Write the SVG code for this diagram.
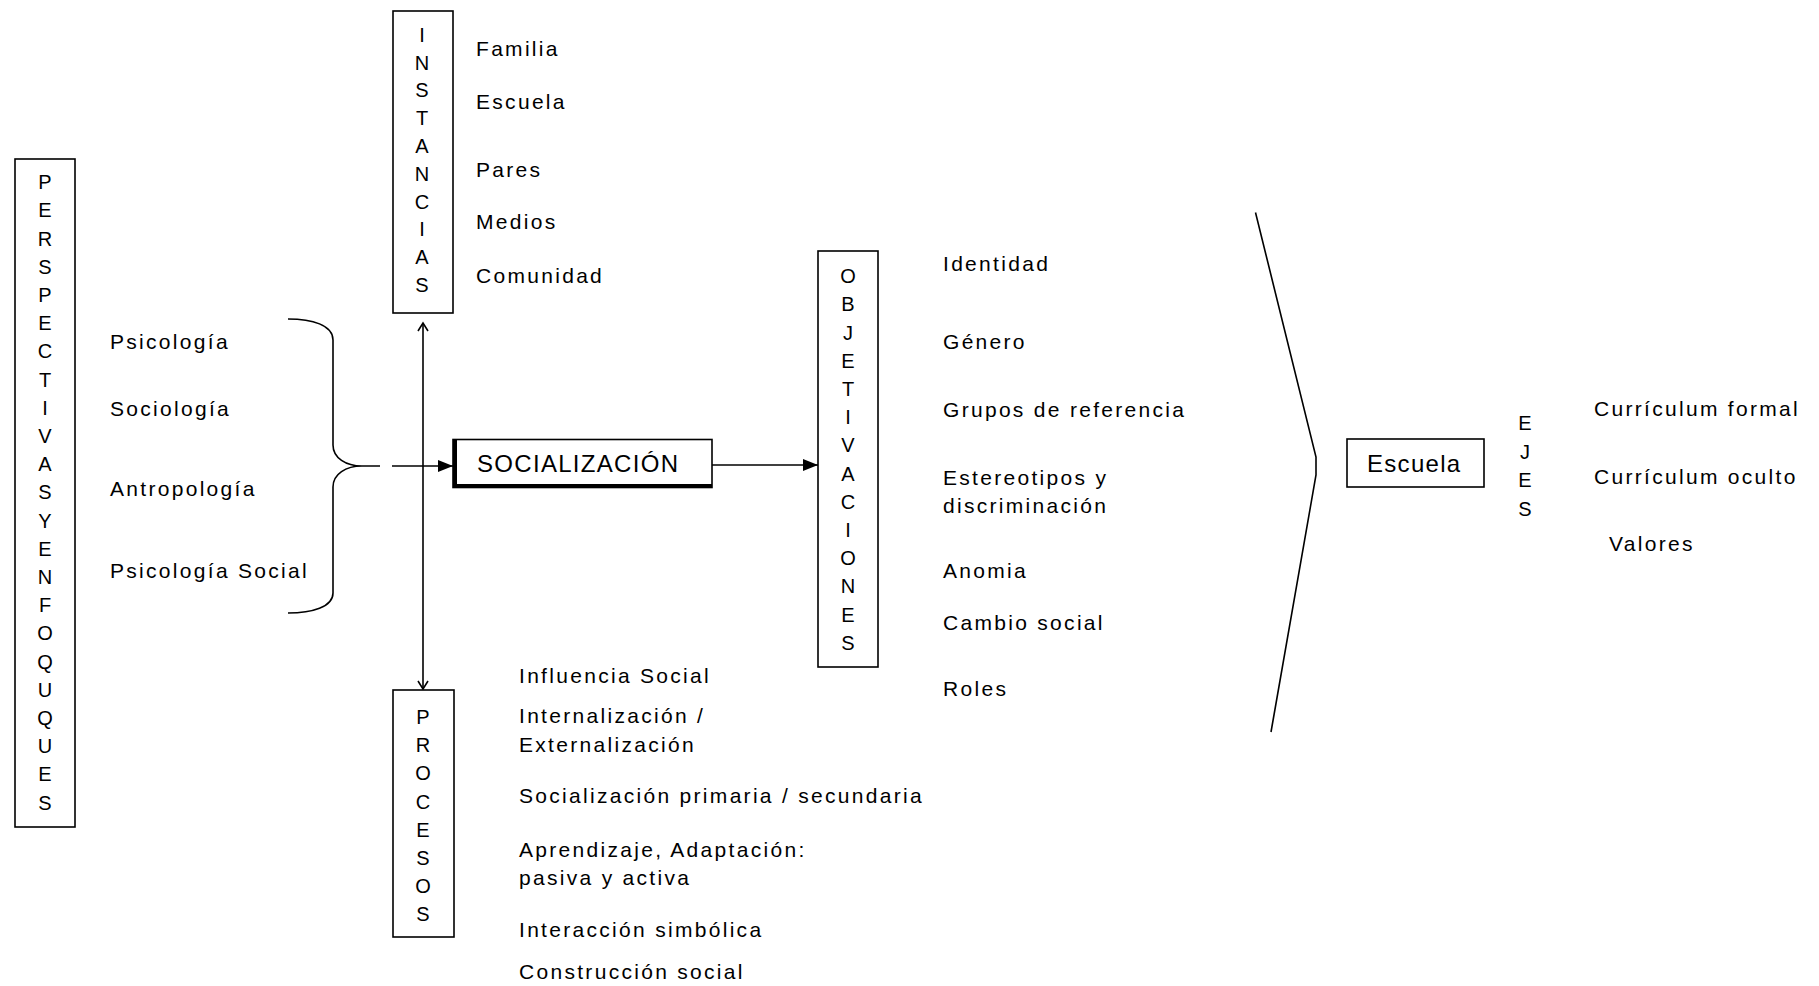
<svg xmlns="http://www.w3.org/2000/svg" width="1819" height="986" viewBox="0 0 1819 986">
<defs>
<style>
.t{font-family:"Liberation Sans",Arial,sans-serif;font-size:21px;letter-spacing:2.3px;fill:#000}
.big{font-family:"Liberation Sans",Arial,sans-serif;font-size:24px;letter-spacing:1.3px;fill:#000}
.v{font-family:"Liberation Sans",Arial,sans-serif;font-size:20px;fill:#000;text-anchor:middle}
.box{fill:#fff;stroke:#000;stroke-width:1.6}
.ln{fill:none;stroke:#000;stroke-width:1.6}
</style>
<marker id="tri" markerUnits="userSpaceOnUse" viewBox="0 0 15 12" markerWidth="15" markerHeight="12" refX="15" refY="6" orient="auto">
<path d="M0,0 L15,6 L0,12 z" fill="#000"/>
</marker>
<marker id="chev" markerUnits="userSpaceOnUse" viewBox="0 0 12 12" markerWidth="12" markerHeight="12" refX="10" refY="6" orient="auto-start-reverse">
<path d="M2,1 L10,6 L2,11" fill="none" stroke="#000" stroke-width="1.6"/>
</marker>
</defs>
<rect width="1819" height="986" fill="#fff"/>

<g id="connectors">
<path class="ln" d="M288,319 C312,319 333,325 333,340 L333,445 C333,458 346,466 362,466 L380,466 M362,466 C346,466 333,474 333,487 L333,593 C333,607 312,613 288,613"/>
<line class="ln" x1="392" y1="466" x2="453" y2="466" marker-end="url(#tri)"/>
<line class="ln" x1="423" y1="323" x2="423" y2="689" marker-start="url(#chev)" marker-end="url(#chev)"/>
<line class="ln" x1="712" y1="465" x2="818" y2="465" marker-end="url(#tri)"/>
<polyline class="ln" points="1255.5,212.5 1316,457 1316,475 1271,732"/>
</g>

<g id="perspectivas">
<rect class="box" x="15" y="159" width="60" height="668"/>
<text class="v">
<tspan x="45" y="189.2">P</tspan><tspan x="45" y="217.4">E</tspan><tspan x="45" y="245.6">R</tspan><tspan x="45" y="273.8">S</tspan><tspan x="45" y="302">P</tspan><tspan x="45" y="330.2">E</tspan><tspan x="45" y="358.4">C</tspan><tspan x="45" y="386.6">T</tspan><tspan x="45" y="414.8">I</tspan><tspan x="45" y="443">V</tspan><tspan x="45" y="471.2">A</tspan><tspan x="45" y="499.4">S</tspan><tspan x="45" y="527.6">Y</tspan><tspan x="45" y="555.8">E</tspan><tspan x="45" y="584">N</tspan><tspan x="45" y="612.2">F</tspan><tspan x="45" y="640.4">O</tspan><tspan x="45" y="668.6">Q</tspan><tspan x="45" y="696.8">U</tspan><tspan x="45" y="725">Q</tspan><tspan x="45" y="753.2">U</tspan><tspan x="45" y="781.4">E</tspan><tspan x="45" y="809.6">S</tspan>
</text>
</g>

<g id="disciplinas">
<text class="t" x="110" y="349">Psicología</text>
<text class="t" x="110" y="416">Sociología</text>
<text class="t" x="110" y="496">Antropología</text>
<text class="t" x="110" y="578">Psicología Social</text>
</g>

<g id="instancias">
<rect class="box" x="393" y="11" width="60" height="302"/>
<text class="v">
<tspan x="422" y="41.7">I</tspan><tspan x="422" y="69.5">N</tspan><tspan x="422" y="97.3">S</tspan><tspan x="422" y="125.1">T</tspan><tspan x="422" y="152.9">A</tspan><tspan x="422" y="180.7">N</tspan><tspan x="422" y="208.5">C</tspan><tspan x="422" y="236.3">I</tspan><tspan x="422" y="264.1">A</tspan><tspan x="422" y="291.9">S</tspan>
</text>
<text class="t" x="476" y="56">Familia</text>
<text class="t" x="476" y="109">Escuela</text>
<text class="t" x="476" y="177">Pares</text>
<text class="t" x="476" y="229">Medios</text>
<text class="t" x="476" y="283">Comunidad</text>
</g>

<g id="socializacion">
<rect class="box" x="453" y="439.5" width="259" height="48"/>
<line x1="455" y1="439" x2="455" y2="488" stroke="#000" stroke-width="4"/>
<line x1="453" y1="486" x2="712" y2="486" stroke="#000" stroke-width="4"/>
<text class="big" x="477" y="472">SOCIALIZACIÓN</text>
</g>

<g id="procesos">
<rect class="box" x="393" y="690" width="61" height="247"/>
<text class="v">
<tspan x="423" y="724.2">P</tspan><tspan x="423" y="752.3">R</tspan><tspan x="423" y="780.4">O</tspan><tspan x="423" y="808.5">C</tspan><tspan x="423" y="836.6">E</tspan><tspan x="423" y="864.7">S</tspan><tspan x="423" y="892.8">O</tspan><tspan x="423" y="920.9">S</tspan>
</text>
<text class="t" x="519" y="683">Influencia Social</text>
<text class="t" x="519" y="723">Internalización /</text>
<text class="t" x="519" y="752">Externalización</text>
<text class="t" x="519" y="803">Socialización primaria / secundaria</text>
<text class="t" x="519" y="857">Aprendizaje, Adaptación:</text>
<text class="t" x="519" y="885">pasiva y activa</text>
<text class="t" x="519" y="937">Interacción simbólica</text>
<text class="t" x="519" y="979">Construcción social</text>
</g>

<g id="objetivaciones">
<rect class="box" x="818" y="251" width="60" height="416"/>
<text class="v">
<tspan x="848" y="283.2">O</tspan><tspan x="848" y="311.4">B</tspan><tspan x="848" y="339.6">J</tspan><tspan x="848" y="367.8">E</tspan><tspan x="848" y="396">T</tspan><tspan x="848" y="424.2">I</tspan><tspan x="848" y="452.4">V</tspan><tspan x="848" y="480.6">A</tspan><tspan x="848" y="508.8">C</tspan><tspan x="848" y="537">I</tspan><tspan x="848" y="565.2">O</tspan><tspan x="848" y="593.4">N</tspan><tspan x="848" y="621.6">E</tspan><tspan x="848" y="649.8">S</tspan>
</text>
<text class="t" x="943" y="271">Identidad</text>
<text class="t" x="943" y="349">Género</text>
<text class="t" x="943" y="417">Grupos de referencia</text>
<text class="t" x="943" y="485">Estereotipos y</text>
<text class="t" x="943" y="513">discriminación</text>
<text class="t" x="943" y="578">Anomia</text>
<text class="t" x="943" y="630">Cambio social</text>
<text class="t" x="943" y="696">Roles</text>
</g>

<g id="escuela">
<rect class="box" x="1347" y="439" width="137" height="48"/>
<text class="big" x="1367" y="472">Escuela</text>
</g>

<g id="ejes">
<text class="v">
<tspan x="1525" y="430.2">E</tspan><tspan x="1525" y="458.7">J</tspan><tspan x="1525" y="487.2">E</tspan><tspan x="1525" y="515.7">S</tspan>
</text>
<text class="t" x="1594" y="416">Currículum formal</text>
<text class="t" x="1594" y="484">Currículum oculto</text>
<text class="t" x="1609" y="551">Valores</text>
</g>
</svg>
